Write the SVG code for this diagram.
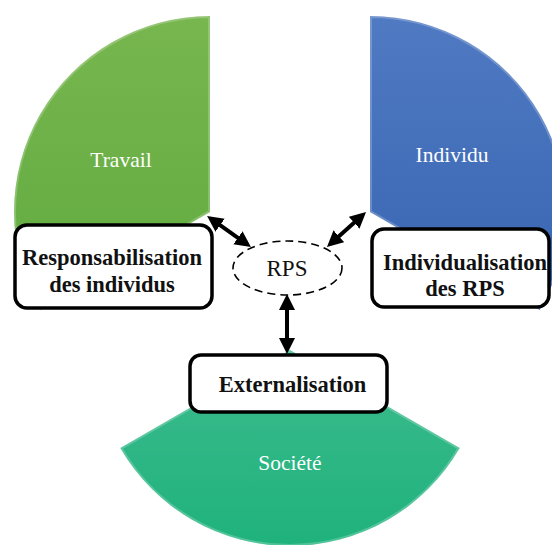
<svg xmlns="http://www.w3.org/2000/svg" width="552" height="545" viewBox="0 0 552 545">
<defs>
  <linearGradient id="gGreen" x1="0" y1="0" x2="0" y2="1">
    <stop offset="0" stop-color="#78b64f"/>
    <stop offset="1" stop-color="#60ab3f"/>
  </linearGradient>
  <linearGradient id="gBlue" x1="0" y1="0" x2="0" y2="1">
    <stop offset="0" stop-color="#507ac2"/>
    <stop offset="1" stop-color="#3764b2"/>
  </linearGradient>
  <linearGradient id="gTeal" x1="0" y1="0" x2="0" y2="1">
    <stop offset="0" stop-color="#3ebb8e"/>
    <stop offset="1" stop-color="#1fb27d"/>
  </linearGradient>
  <clipPath id="cGreen"><path d="M210 212 L210 16 A196 196 0 0 0 40.3 310 Z"/></clipPath>
  <clipPath id="cBlue"><path d="M370 212 L370 16 A196 196 0 0 1 539.7 310 Z"/></clipPath>
  <clipPath id="cTeal"><path d="M290 350 L459.7 448 A196 196 0 0 1 120.3 448 Z"/></clipPath>
  <marker id="ah" viewBox="0 0 10 10" refX="3" refY="5" markerWidth="16" markerHeight="16" markerUnits="userSpaceOnUse" orient="auto-start-reverse">
    <path d="M0,0 L10,5 L0,10 Z" fill="#000"/>
  </marker>
</defs>
<style>
  .hl { fill: none; stroke: #ffffff; stroke-opacity: 0.22; stroke-width: 4; }
  .seclabel { font-family: "Liberation Serif", "Times New Roman", serif; font-size: 21.5px; fill: #ffffff; text-anchor: middle; }
  .box { fill: #ffffff; stroke: #000000; stroke-width: 3.5; }
  .boxlabel { font-family: "Liberation Serif", "Times New Roman", serif; font-size: 22.5px; font-weight: bold; fill: #111111; text-anchor: middle; }
  .conn { stroke: #000000; stroke-width: 4; fill: none; marker-start: url(#ah); marker-end: url(#ah); }
</style>

<g id="travail">
  <path d="M210 212 L210 16 A196 196 0 0 0 40.3 310 Z" fill="url(#gGreen)"/>
  <path d="M210 212 L210 16 A196 196 0 0 0 40.3 310 Z" class="hl" clip-path="url(#cGreen)"/>
  <text x="121" y="167" class="seclabel">Travail</text>
</g>

<g id="individu">
  <path d="M370 212 L370 16 A196 196 0 0 1 539.7 310 Z" fill="url(#gBlue)"/>
  <path d="M370 212 L370 16 A196 196 0 0 1 539.7 310 Z" class="hl" clip-path="url(#cBlue)"/>
  <text x="452" y="162" class="seclabel">Individu</text>
</g>

<g id="societe">
  <path d="M290 350 L459.7 448 A196 196 0 0 1 120.3 448 Z" fill="url(#gTeal)"/>
  <path d="M290 350 L459.7 448 A196 196 0 0 1 120.3 448 Z" class="hl" clip-path="url(#cTeal)"/>
  <text x="290" y="470" class="seclabel">Société</text>
</g>

<g id="connectors">
  <line x1="216.2" y1="222.4" x2="241.8" y2="240.6" class="conn"/>
  <line x1="357.7" y1="219.5" x2="335.3" y2="239.5" class="conn"/>
  <line x1="287" y1="305.2" x2="287" y2="342.8" class="conn"/>
</g>

<g id="rps">
  <ellipse cx="287.5" cy="268" rx="54.5" ry="27" fill="#ffffff" stroke="#000000" stroke-width="1.6" stroke-dasharray="8 5"/>
  <text x="287" y="276" font-family="Liberation Serif, Times New Roman, serif" font-size="23px" fill="#111111" text-anchor="middle">RPS</text>
</g>

<g id="responsabilisation">
  <rect x="15" y="225" width="197" height="83" rx="12" class="box"/>
  <text x="112" y="265" class="boxlabel">Responsabilisation</text>
  <text x="112" y="292" class="boxlabel">des individus</text>
</g>

<g id="individualisation">
  <rect x="372" y="229" width="177" height="78" rx="12" class="box"/>
  <text x="465" y="270" class="boxlabel">Individualisation</text>
  <text x="465" y="296" class="boxlabel">des RPS</text>
</g>

<g id="externalisation">
  <rect x="190" y="355" width="197" height="57" rx="11" class="box"/>
  <text x="292.5" y="392" class="boxlabel">Externalisation</text>
</g>
</svg>
